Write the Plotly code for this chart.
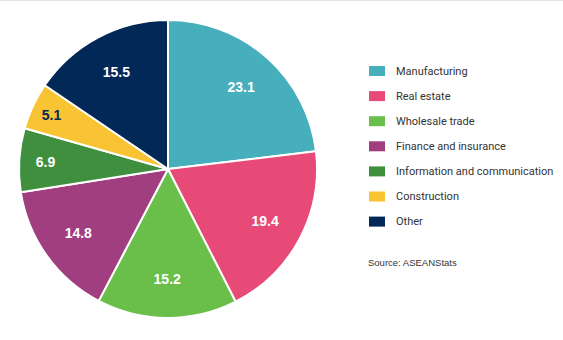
import plotly.graph_objects as go

categories = ["Manufacturing", "Real estate", "Wholesale trade", "Finance and insurance",
              "Information and communication", "Construction", "Other"]
values = [23.1, 19.4, 15.2, 14.8, 6.9, 5.1, 15.5]
colors = ["#47aebc", "#e84a78", "#6abf4b", "#a03e80", "#3f8f3f", "#f9c433", "#012856"]
text_colors = ["white", "white", "white", "white", "white", "#012856", "white"]
source_text = "Source: ASEANStats"

W, H = 563, 340
dom = dict(x=[19 / W, 317 / W], y=[22 / H, 320 / H])
fig = go.Figure()
fig.add_trace(go.Pie(
    labels=categories, values=values, sort=False, direction="clockwise", rotation=0,
    marker=dict(colors=colors, line=dict(color="white", width=2)),
    textinfo="none", domain=dom, showlegend=False, hoverinfo="label+value",
))
# transparent ring carrying the value labels
fig.add_trace(go.Pie(
    labels=categories, values=values, sort=False, direction="clockwise", rotation=0,
    hole=0.48,
    marker=dict(colors=["rgba(0,0,0,0)"] * len(values), line=dict(width=0)),
    texttemplate="<b>%{value}</b>", textposition="inside",
    insidetextorientation="horizontal",
    textfont=dict(family="Liberation Sans, Arial", size=14, color=text_colors),
    domain=dom, showlegend=False, hoverinfo="skip",
))

# legend drawn with shapes and annotations
x0, y0, dy = 369, 71, 25.1
shapes = [dict(type="line", xref="paper", yref="paper", x0=0, x1=1, y0=1 - 0.5 / H, y1=1 - 0.5 / H,
               line=dict(color="#e3e3e3", width=1))]
annotations = []
for i, (cat, col) in enumerate(zip(categories, colors)):
    yc = y0 + i * dy
    shapes.append(dict(type="rect", xref="paper", yref="paper",
                       x0=x0 / W, x1=(x0 + 16) / W, y0=1 - (yc + 5) / H, y1=1 - (yc - 5) / H,
                       fillcolor=col, line=dict(width=0)))
    annotations.append(dict(text=cat, xref="paper", yref="paper", x=394 / W, y=1 - yc / H,
                            xanchor="left", yanchor="middle", showarrow=False,
                            font=dict(family="Roboto", size=11, color="#333333")))
annotations.append(dict(text=source_text, xref="paper", yref="paper", x=366 / W, y=1 - 262 / H,
                        xanchor="left", yanchor="middle", showarrow=False,
                        font=dict(family="Liberation Sans, Arial", size=9.5, color="#333333")))

fig.update_layout(width=W, height=H, margin=dict(l=0, r=0, t=0, b=0),
                  paper_bgcolor="white", plot_bgcolor="white",
                  shapes=shapes, annotations=annotations,
                  uniformtext=dict(minsize=14, mode="show"))
fig.write_html("out.html")
